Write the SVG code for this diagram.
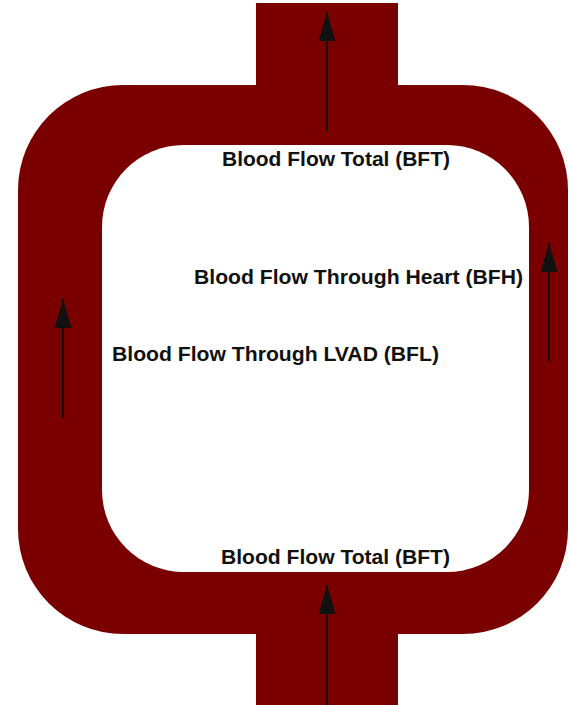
<svg xmlns="http://www.w3.org/2000/svg" width="570" height="705" viewBox="0 0 570 705">
<style>
.pipe{fill:#7a0000}
.lumen{fill:#ffffff}
.lbl{font-family:"Liberation Sans",Arial,Helvetica,sans-serif;font-weight:bold;font-size:20.5px;fill:#111111}
.flow{stroke:#111111;stroke-width:2;fill:none}
</style>
<defs>
<marker id="ah" viewBox="0 0 29 17" refX="29" refY="8.5" markerWidth="29" markerHeight="17" markerUnits="userSpaceOnUse" orient="auto">
<path d="M0,0 L29,8.5 L0,17 Z" fill="#111111"/>
</marker>
</defs>
<rect width="570" height="705" fill="#ffffff"/>
<g id="vessel">
<rect class="pipe" x="256" y="3" width="142" height="90"/>
<rect class="pipe" x="256" y="620" width="142" height="85"/>
<rect class="pipe" x="18" y="85" width="550" height="549" rx="105" ry="105"/>
<rect class="lumen" x="102" y="145" width="427" height="427" rx="82" ry="82"/>
</g>
<g id="connectors">
<line class="flow" x1="327" y1="131" x2="327" y2="12" marker-end="url(#ah)"/>
<line class="flow" x1="327" y1="705" x2="327" y2="585" marker-end="url(#ah)"/>
<line class="flow" x1="63" y1="418" x2="63" y2="299" marker-end="url(#ah)"/>
<line class="flow" x1="549" y1="361" x2="549" y2="243" marker-end="url(#ah)"/>
</g>
<g id="label-bft-top"><text class="lbl" x="222" y="166" textLength="228" lengthAdjust="spacingAndGlyphs">Blood Flow Total (BFT)</text></g>
<g id="label-bfh"><text class="lbl" x="194" y="284" textLength="329" lengthAdjust="spacingAndGlyphs">Blood Flow Through Heart (BFH)</text></g>
<g id="label-bfl"><text class="lbl" x="112" y="361" textLength="327" lengthAdjust="spacingAndGlyphs">Blood Flow Through LVAD (BFL)</text></g>
<g id="label-bft-bottom"><text class="lbl" x="221" y="564" textLength="229" lengthAdjust="spacingAndGlyphs">Blood Flow Total (BFT)</text></g>
</svg>
